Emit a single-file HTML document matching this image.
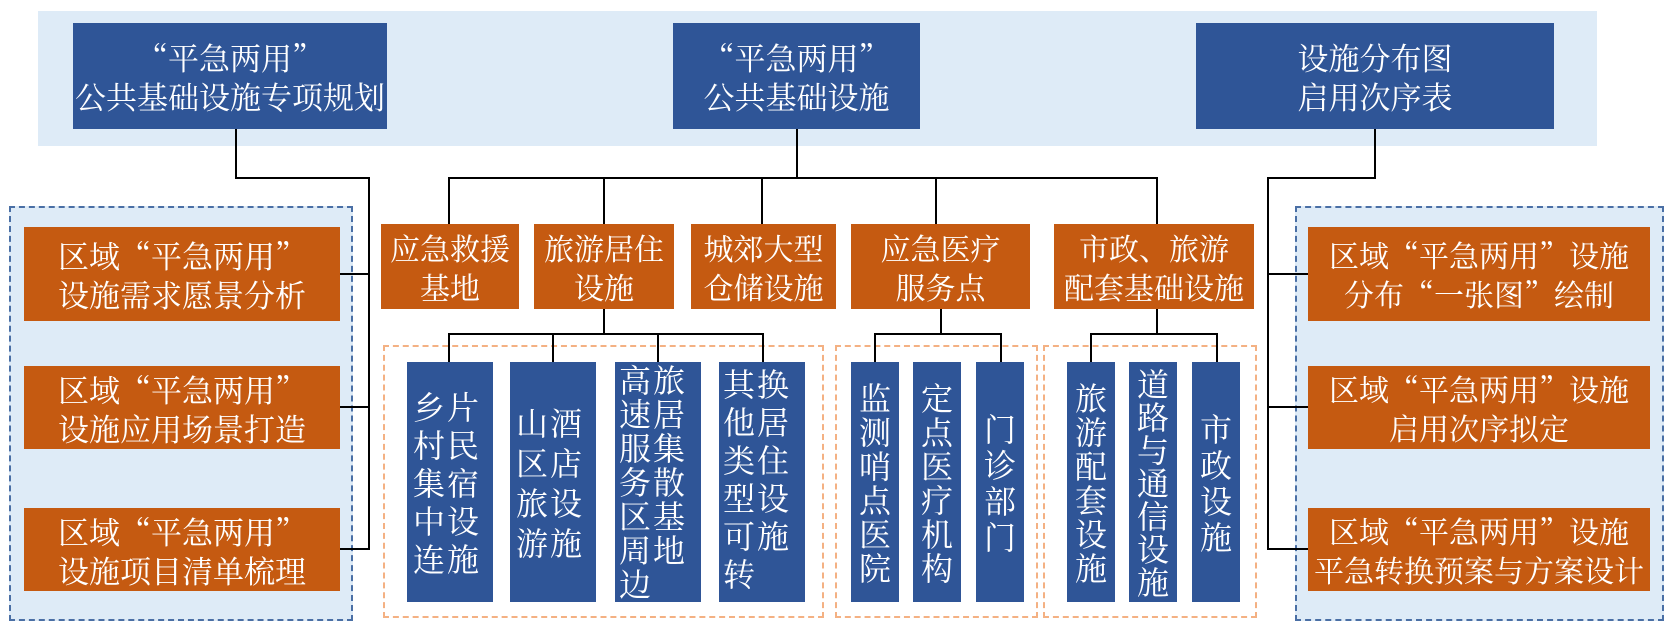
<!DOCTYPE html>
<html><head><meta charset="utf-8"><style>
body{margin:0;width:1678px;height:634px;background:#fff;position:relative;overflow:hidden;font-family:"Noto Serif CJK SC","Liberation Serif",serif;}
div{position:absolute;box-sizing:border-box}
.b{background:#2f5597;color:#fff;display:flex;flex-direction:column;align-items:center;justify-content:center;text-align:center;line-height:39px;font-size:31px;white-space:nowrap}
.o{background:#c55a11;color:#fff;display:flex;flex-direction:column;align-items:center;justify-content:center;text-align:center;line-height:39px;font-size:30px;white-space:nowrap}
.h{height:2px;background:#000}
.v{width:2px;background:#000}
.col{color:#fff;font-size:32px;width:34px;text-align:center;display:flex;flex-direction:column;justify-content:center}
.top{justify-content:flex-start}
</style></head><body>
<div style="left:38px;top:11px;width:1559px;height:135px;background:#deebf7"></div>
<div style="left:9px;top:206px;width:344px;height:415px;background:#deebf7;border:2px dashed #4a6fa5"></div>
<div style="left:1295px;top:206px;width:369px;height:415px;background:#deebf7;border:2px dashed #4a6fa5"></div>
<div style="left:383px;top:345px;width:441px;height:273px;border:2px dashed #f4b183"></div>
<div style="left:835px;top:345px;width:203px;height:273px;border:2px dashed #f4b183"></div>
<div style="left:1043px;top:345px;width:214px;height:273px;border:2px dashed #f4b183"></div>

<div class="v" style="left:235px;top:129px;height:50px"></div>
<div class="h" style="left:235px;top:177px;width:135px"></div>
<div class="v" style="left:368px;top:177px;height:373px"></div>
<div class="h" style="left:340px;top:273px;width:30px"></div>
<div class="h" style="left:340px;top:406px;width:30px"></div>
<div class="h" style="left:340px;top:548px;width:30px"></div>

<div class="v" style="left:1374px;top:129px;height:50px"></div>
<div class="h" style="left:1267px;top:177px;width:109px"></div>
<div class="v" style="left:1267px;top:177px;height:373px"></div>
<div class="h" style="left:1267px;top:273px;width:41px"></div>
<div class="h" style="left:1267px;top:406px;width:41px"></div>
<div class="h" style="left:1267px;top:548px;width:41px"></div>

<div class="v" style="left:796px;top:129px;height:50px"></div>
<div class="h" style="left:448px;top:177px;width:710px"></div>
<div class="v" style="left:448px;top:177px;height:47px"></div>
<div class="v" style="left:603px;top:177px;height:47px"></div>
<div class="v" style="left:761px;top:177px;height:47px"></div>
<div class="v" style="left:935px;top:177px;height:47px"></div>
<div class="v" style="left:1156px;top:177px;height:47px"></div>

<div class="v" style="left:603px;top:309px;height:26px"></div>
<div class="h" style="left:448px;top:333px;width:316px"></div>
<div class="v" style="left:448px;top:333px;height:29px"></div>
<div class="v" style="left:552px;top:333px;height:29px"></div>
<div class="v" style="left:657px;top:333px;height:29px"></div>
<div class="v" style="left:762px;top:333px;height:29px"></div>

<div class="v" style="left:940px;top:309px;height:26px"></div>
<div class="h" style="left:874px;top:333px;width:128px"></div>
<div class="v" style="left:874px;top:333px;height:29px"></div>
<div class="v" style="left:1000px;top:333px;height:29px"></div>

<div class="v" style="left:1156px;top:309px;height:26px"></div>
<div class="h" style="left:1090px;top:333px;width:128px"></div>
<div class="v" style="left:1090px;top:333px;height:29px"></div>
<div class="v" style="left:1216px;top:333px;height:29px"></div>

<div class="b" style="left:73px;top:23px;width:314px;height:106px"><span>“平急两用”</span><span>公共基础设施专项规划</span></div>
<div class="b" style="left:673px;top:23px;width:247px;height:106px"><span>“平急两用”</span><span>公共基础设施</span></div>
<div class="b" style="left:1196px;top:23px;width:358px;height:106px"><span>设施分布图</span><span>启用次序表</span></div>

<div class="o" style="left:24px;top:227px;width:316px;height:94px;font-size:31px"><span>区域“平急两用”</span><span>设施需求愿景分析</span></div>
<div class="o" style="left:24px;top:366px;width:316px;height:83px;font-size:31px"><span>区域“平急两用”</span><span>设施应用场景打造</span></div>
<div class="o" style="left:24px;top:508px;width:316px;height:83px;font-size:31px"><span>区域“平急两用”</span><span>设施项目清单梳理</span></div>

<div class="o" style="left:1308px;top:227px;width:342px;height:94px"><span>区域“平急两用”设施</span><span>分布“一张图”绘制</span></div>
<div class="o" style="left:1308px;top:366px;width:342px;height:83px"><span>区域“平急两用”设施</span><span>启用次序拟定</span></div>
<div class="o" style="left:1308px;top:508px;width:342px;height:83px"><span>区域“平急两用”设施</span><span>平急转换预案与方案设计</span></div>

<div class="o" style="left:381px;top:224px;width:138px;height:85px"><span>应急救援</span><span>基地</span></div>
<div class="o" style="left:534px;top:224px;width:140px;height:85px"><span>旅游居住</span><span>设施</span></div>
<div class="o" style="left:691px;top:224px;width:145px;height:85px"><span>城郊大型</span><span>仓储设施</span></div>
<div class="o" style="left:851px;top:224px;width:179px;height:85px"><span>应急医疗</span><span>服务点</span></div>
<div class="o" style="left:1054px;top:224px;width:200px;height:85px"><span>市政、旅游</span><span>配套基础设施</span></div>

<div class="b" style="left:407px;top:362px;width:86px;height:240px"></div>
<div class="col" style="left:412px;top:362px;height:240px;line-height:38px">乡<br>村<br>集<br>中<br>连</div>
<div class="col" style="left:446px;top:362px;height:240px;line-height:38px">片<br>民<br>宿<br>设<br>施</div>

<div class="b" style="left:510px;top:362px;width:86px;height:240px"></div>
<div class="col" style="left:515px;top:362px;height:240px;line-height:40px">山<br>区<br>旅<br>游</div>
<div class="col" style="left:549px;top:362px;height:240px;line-height:40px">酒<br>店<br>设<br>施</div>

<div class="b" style="left:615px;top:362px;width:86px;height:240px"></div>
<div class="col top" style="left:618px;top:362px;height:240px;line-height:34px">高<br>速<br>服<br>务<br>区<br>周<br>边</div>
<div class="col top" style="left:652px;top:362px;height:240px;line-height:34px">旅<br>居<br>集<br>散<br>基<br>地</div>

<div class="b" style="left:719px;top:362px;width:86px;height:240px"></div>
<div class="col top" style="left:722px;top:364px;height:240px;line-height:38px">其<br>他<br>类<br>型<br>可<br>转</div>
<div class="col top" style="left:756px;top:364px;height:240px;line-height:38px">换<br>居<br>住<br>设<br>施</div>

<div class="b" style="left:851px;top:362px;width:48px;height:240px"></div>
<div class="col" style="left:858px;top:362px;height:240px;line-height:34px">监<br>测<br>哨<br>点<br>医<br>院</div>
<div class="b" style="left:913px;top:362px;width:48px;height:240px"></div>
<div class="col" style="left:920px;top:362px;height:240px;line-height:34px">定<br>点<br>医<br>疗<br>机<br>构</div>
<div class="b" style="left:976px;top:362px;width:48px;height:240px"></div>
<div class="col" style="left:983px;top:362px;height:240px;line-height:36px">门<br>诊<br>部<br>门</div>

<div class="b" style="left:1067px;top:362px;width:48px;height:240px"></div>
<div class="col" style="left:1074px;top:362px;height:240px;line-height:34px">旅<br>游<br>配<br>套<br>设<br>施</div>
<div class="b" style="left:1129px;top:362px;width:48px;height:240px"></div>
<div class="col" style="left:1136px;top:362px;height:240px;line-height:33px">道<br>路<br>与<br>通<br>信<br>设<br>施</div>
<div class="b" style="left:1192px;top:362px;width:48px;height:240px"></div>
<div class="col" style="left:1199px;top:362px;height:240px;line-height:36px">市<br>政<br>设<br>施</div>
</body></html>
